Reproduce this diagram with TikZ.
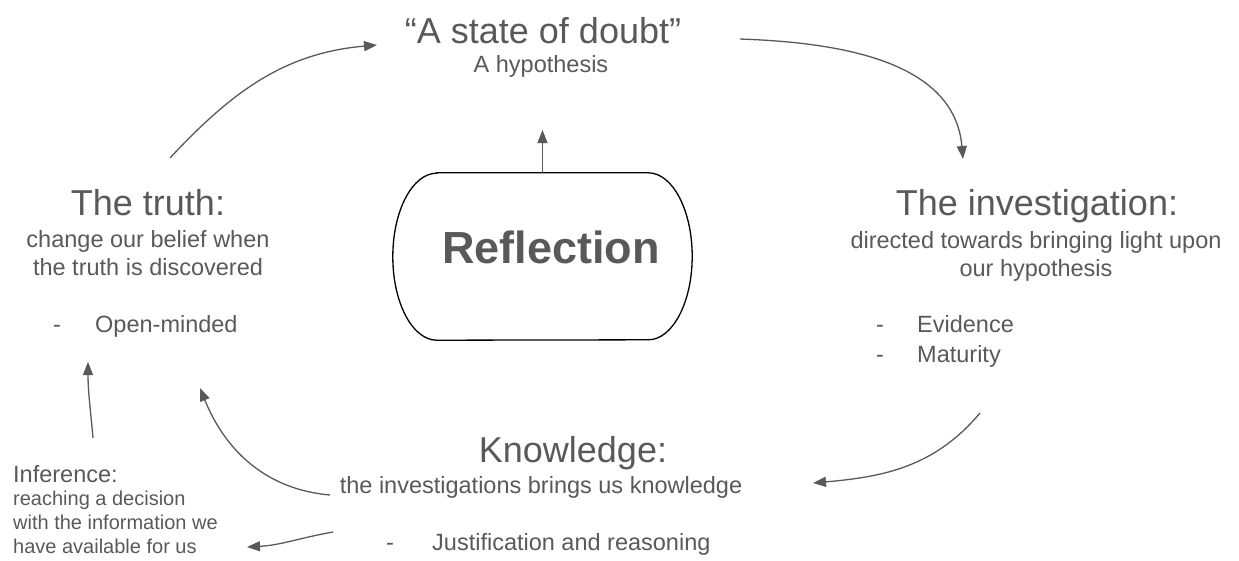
\documentclass[tikz,border=0pt]{standalone}
\usepackage{fontspec}
\setmainfont{Liberation Sans}
\usetikzlibrary{arrows.meta}

\definecolor{inkgray}{HTML}{595959}

\tikzset{
  stagehead/.style={font=\fontsize{36}{40}\selectfont, text=inkgray, inner sep=0pt, anchor=base},
  stagetext/.style={font=\fontsize{23.5}{28}\selectfont, text=inkgray, inner sep=0pt, align=center, anchor=base},
  listtext/.style={font=\fontsize{23.5}{30}\selectfont, text=inkgray, inner sep=0pt, align=left, anchor=base west},
  smalltext/.style={font=\fontsize{20}{24}\selectfont, text=inkgray, inner sep=0pt, align=left, anchor=base west},
  flow/.style={draw=inkgray, line width=1.3pt, -{Triangle[length=13pt,width=10pt]}},
}

\begin{document}
\begin{tikzpicture}[x=1pt,y=1pt]
  \useasboundingbox (0,0) rectangle (1239,-560);

  % centre: reflection
  \node[minimum width=299pt, minimum height=167pt, inner sep=0pt] (box) at (542.5,-256.5) {};
  \draw[line width=1.3pt] ([xshift=44pt]box.north west) -- ([xshift=-44pt]box.north east)
    arc[start angle=90, end angle=-90, x radius=44pt, y radius=83.5pt]
    -- ([xshift=44pt]box.south west)
    arc[start angle=270, end angle=90, x radius=44pt, y radius=83.5pt] -- cycle;
  \node[font=\fontsize{45}{50}\selectfont\bfseries, text=inkgray, inner sep=0pt, anchor=base] (refl) at (551,-263) {Reflection};

  % top
  \node[stagehead] (doubt) at (543,-43) {“A state of doubt”};
  \node[stagetext] (hyp) at (541,-72) {A hypothesis};

  % right (multi-line nodes sit on their last line)
  \node[stagehead] (invest) at (1037,-215) {The investigation:};
  \node[stagetext] (investtxt) at (1036,-276) {directed towards bringing light upon\\our hypothesis};
  \node[listtext] (investlist) at (876,-362) {\makebox[41pt][l]{-}Evidence\\\makebox[41pt][l]{-}Maturity};

  % bottom
  \node[stagehead] (know) at (573,-462) {Knowledge:};
  \node[stagetext] (knowtxt) at (541,-493) {the investigations brings us knowledge};
  \node[listtext] (knowlist) at (386,-550) {\makebox[46pt][l]{-}Justification and reasoning};

  % left
  \node[stagehead] (truth) at (148,-215) {The truth:};
  \node[stagetext] (truthtxt) at (148,-275) {change our belief when\\the truth is discovered};
  \node[listtext] (truthlist) at (53,-332) {\makebox[42pt][l]{-}Open-minded};

  % bottom left
  \node[listtext] (infer) at (13,-482) {Inference:};
  \node[smalltext] (infertxt) at (13,-553) {reaching a decision\\with the information we\\have available for us};

  % arrow ends
  \coordinate (truth-out) at (170,-158);
  \coordinate (doubt-in) at (377,-45);
  \coordinate (doubt-out) at (740,-39);
  \coordinate (invest-in) at (963,-159);
  \coordinate (invest-out) at (980,-413);
  \coordinate (know-in) at (813,-483);
  \coordinate (know-out) at (330,-495);
  \coordinate (truth-in) at (200,-388);
  \coordinate (know-out2) at (333,-532);
  \coordinate (infer-in) at (247,-547);
  \coordinate (infer-out) at (93,-438);
  \coordinate (truth-in2) at (88,-362);
  \coordinate (hyp-in) at (542.5,-130);

  % the cycle
  \draw[flow] (truth-out) to[out=47, in=185] (doubt-in);
  \draw[flow] (doubt-out) to[out=-2, in=95] (invest-in);
  \draw[flow] (invest-out) to[out=230, in=5] (know-in);
  \draw[flow] (know-out) to[out=175, in=-68] (truth-in);
  \draw[flow] (know-out2) to[out=190, in=3] (infer-in);
  \draw[flow] (infer-out) to[out=95, in=-90] (truth-in2);
  \draw[flow] (box.north) -- (hyp-in);
\end{tikzpicture}
\end{document}
